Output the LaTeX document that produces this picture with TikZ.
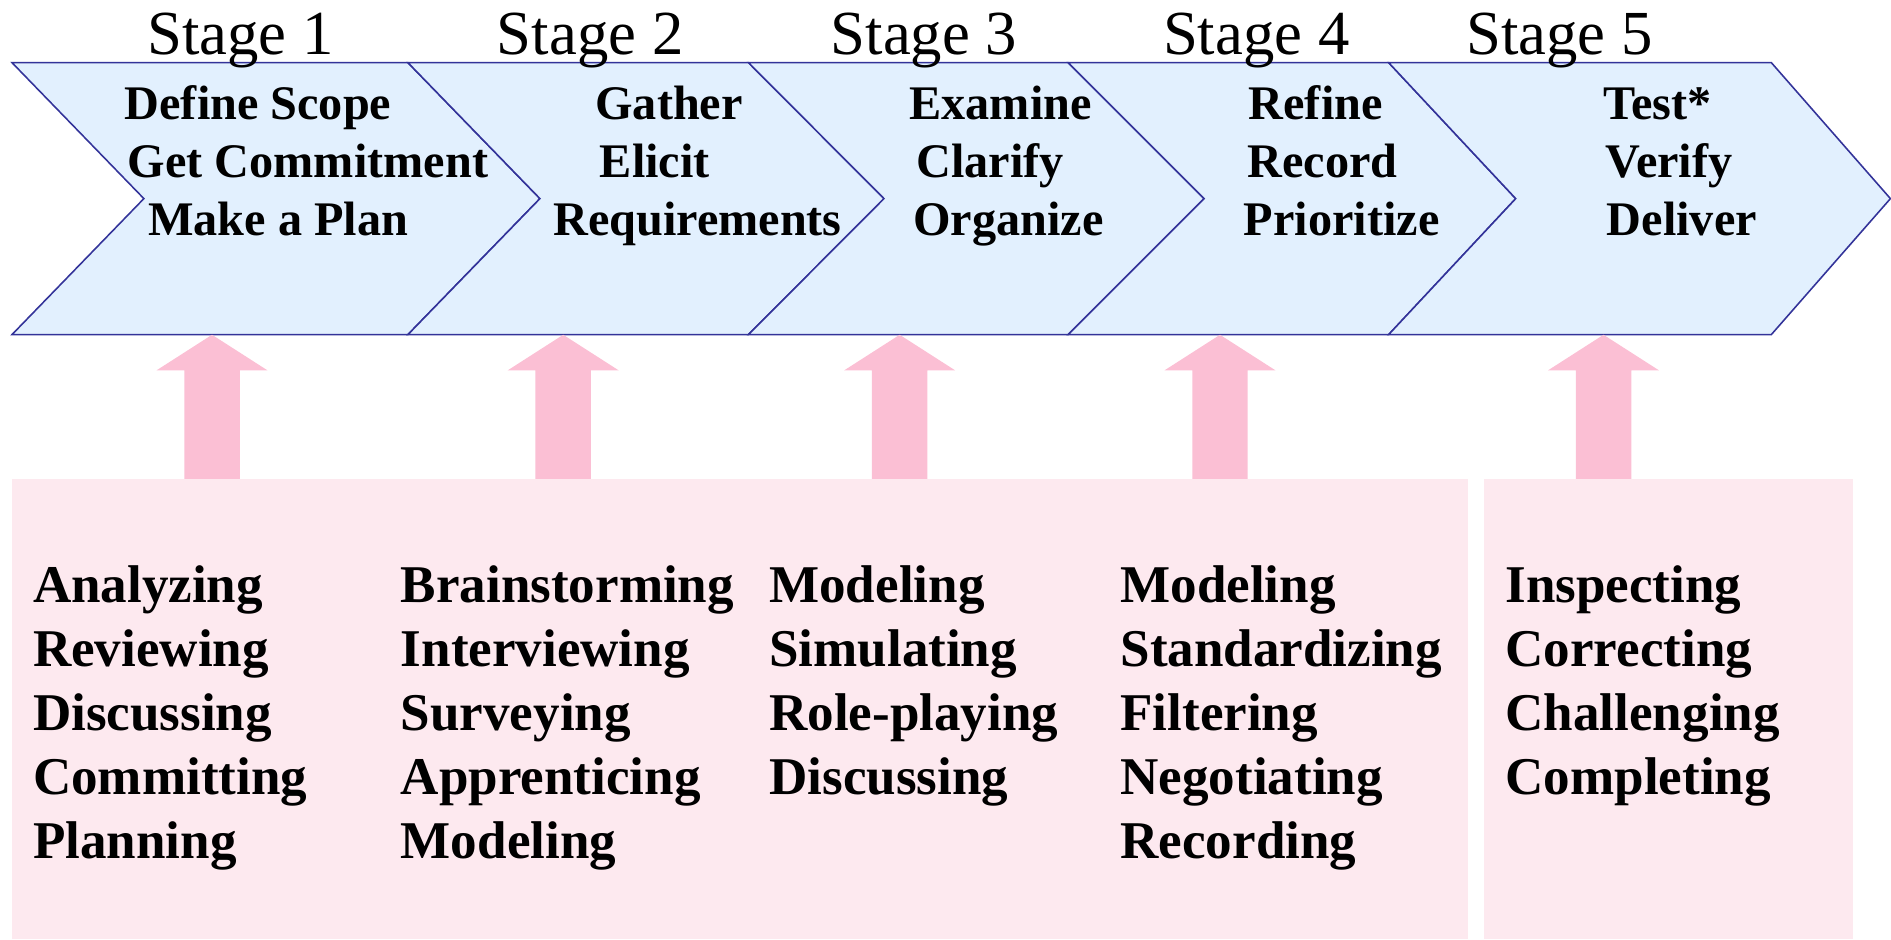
\documentclass[tikz,border=0pt]{standalone}
\usepackage{fontspec}
\setmainfont{Liberation Serif}
\usetikzlibrary{calc}
\definecolor{chevline}{RGB}{51,51,153}
\definecolor{chevfill}{RGB}{226,240,254}
\definecolor{arrowpink}{RGB}{251,191,212}
\definecolor{panelpink}{RGB}{253,233,239}
\begin{document}
\begin{tikzpicture}[x=0.5pt,y=-0.5pt,
  chev/.style={draw=chevline, fill=chevfill, line width=0.65pt, line join=miter},
  uparrow/.style={fill=arrowpink, draw=none},
  panel/.style={fill=panelpink, draw=none},
  stagelbl/.style={anchor=base west, inner sep=0pt, font=\fontsize{26}{26}\selectfont},
  steptxt/.style={anchor=base west, inner sep=0pt, font=\fontsize{20}{20}\selectfont\bfseries},
  acttxt/.style={anchor=base west, inner sep=0pt, font=\fontsize{22}{22}\selectfont\bfseries}
]
\useasboundingbox (0,0) rectangle (1568,779);
% panels
\coordinate (pA1) at (10,397);
\coordinate (pA2) at (1217.5,779);
\coordinate (pB1) at (1230.4,397);
\coordinate (pB2) at (1536.7,779);
\path[panel] (pA1) rectangle (pA2);
\path[panel] (pB1) rectangle (pB2);
% chevrons
\def\yt{52}\def\yb{277.4}\def\ym{164.7}
\foreach \L/\N/\R/\P [count=\i] in {10/119.3/338.3/447.7, 338.3/447.7/620.7/733, 620.7/733/885.7/998.4, 885.7/998.4/1151.5/1256.8, 1151.5/1256.8/1468.8/1567.5}{
  \draw[chev] (\L,\yt) -- (\R,\yt) -- (\P,\ym) -- (\R,\yb) -- (\L,\yb) -- (\N,\ym) -- cycle;
}
% stage labels
\foreach \x [count=\i] in {121.7,411.7,688.4,964,1215.5}{
  \node[stagelbl] (stage\i) at (\x,45.6) {Stage \i};
}
% chevron texts
\node[steptxt] (s1a) at (103,99.5) {Define Scope};
\node[steptxt] (s1b) at (105.5,147.3) {Get Commitment};
\node[steptxt] (s1c) at (122.5,194.9) {Make a Plan};
\node[steptxt] (s2a) at (493.3,99.5) {Gather};
\node[steptxt] (s2b) at (497,147.3) {Elicit};
\node[steptxt] (s2c) at (458.3,194.9) {Requirements};
\node[steptxt] (s3a) at (753.7,99.5) {Examine};
\node[steptxt] (s3b) at (759.5,147.3) {Clarify};
\node[steptxt] (s3c) at (757,194.9) {Organize};
\node[steptxt] (s4a) at (1035,99.5) {Refine};
\node[steptxt] (s4b) at (1034,147.3) {Record};
\node[steptxt] (s4c) at (1031,194.9) {Prioritize};
\node[steptxt] (s5a) at (1329,99.5) {Test*};
\node[steptxt] (s5b) at (1331,147.3) {Verify};
\node[steptxt] (s5c) at (1332,194.9) {Deliver};
% arrows from panels up to chevrons
\foreach \cx [count=\i] in {175.8,467,746,1011.6,1329.6}{
  \coordinate (base\i) at (\cx,397);
  \coordinate (tip\i) at (\cx,277.6);
  \fill[uparrow] ($(base\i)+(-23,0)$) -- ($(tip\i)+(-23,29.5)$) -- ($(tip\i)+(-46,29.5)$) -- (tip\i) -- ($(tip\i)+(46,29.5)$) -- ($(tip\i)+(23,29.5)$) -- ($(base\i)+(23,0)$) -- cycle;
}
% activities
\foreach \w [count=\j] in {Analyzing,Reviewing,Discussing,Committing,Planning}{
  \node[acttxt] (a1-\j) at (27,{499.8+53*(\j-1)}) {\w};
}
\foreach \w [count=\j] in {Brainstorming,Interviewing,Surveying,Apprenticing,Modeling}{
  \node[acttxt] (a2-\j) at (332,{499.8+53*(\j-1)}) {\w};
}
\foreach \w [count=\j] in {Modeling,Simulating,Role-playing,Discussing}{
  \node[acttxt] (a3-\j) at (637.5,{499.8+53*(\j-1)}) {\w};
}
\foreach \w [count=\j] in {Modeling,Standardizing,Filtering,Negotiating,Recording}{
  \node[acttxt] (a4-\j) at (928.7,{499.8+53*(\j-1)}) {\w};
}
\foreach \w [count=\j] in {Inspecting,Correcting,Challenging,Completing}{
  \node[acttxt] (a5-\j) at (1248,{499.8+53*(\j-1)}) {\w};
}
\end{tikzpicture}
\end{document}
